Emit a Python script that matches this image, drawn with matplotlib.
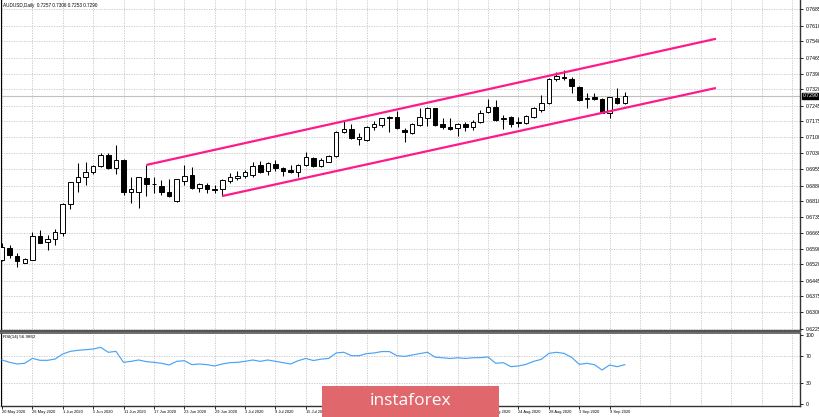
import matplotlib
matplotlib.use("Agg")
import matplotlib.pyplot as plt
from matplotlib.patches import Rectangle
import numpy as np

plt.rcParams['font.family'] = ['Liberation Sans', 'DejaVu Sans']

# ---------------- data ----------------
opens = [0.6540, 0.6593, 0.6559, 0.6527, 0.6540, 0.6649, 0.6620, 0.6634, 0.6665, 0.6796,
         0.6895, 0.6921, 0.6940, 0.6969, 0.7020, 0.6962, 0.6997, 0.6852, 0.6852, 0.6916,
         0.6887, 0.6880, 0.6849, 0.6809, 0.6902, 0.6928, 0.6867, 0.6882, 0.6862, 0.6862,
         0.6901, 0.6913, 0.6924, 0.6928, 0.6974, 0.6946, 0.6978, 0.6962, 0.6951, 0.6940,
         0.6974, 0.7004, 0.6969, 0.6989, 0.7015, 0.7123, 0.7137, 0.7093, 0.7088, 0.7146,
         0.7157, 0.7187, 0.7195, 0.7134, 0.7122, 0.7157, 0.7190, 0.7233, 0.7161, 0.7146,
         0.7145, 0.7161, 0.7149, 0.7169, 0.7215, 0.7241, 0.7183, 0.7192, 0.7172, 0.7164,
         0.7192, 0.7225, 0.7256, 0.7366, 0.7375, 0.7367, 0.7332, 0.7274, 0.7283, 0.7274,
         0.7213, 0.7279, 0.7257]
highs = [0.6616, 0.6608, 0.6570, 0.6550, 0.6669, 0.6677, 0.6654, 0.6681, 0.6802, 0.6898,
         0.6982, 0.6986, 0.6974, 0.7027, 0.7027, 0.7065, 0.7000, 0.6921, 0.6920, 0.6974,
         0.6921, 0.6905, 0.6910, 0.6910, 0.6974, 0.6963, 0.6890, 0.6890, 0.6882, 0.6910,
         0.6936, 0.6948, 0.6951, 0.6989, 0.6994, 0.6989, 0.6997, 0.6966, 0.6974, 0.6977,
         0.7035, 0.7009, 0.7004, 0.7020, 0.7129, 0.7177, 0.7161, 0.7119, 0.7152, 0.7177,
         0.7190, 0.7198, 0.7222, 0.7142, 0.7167, 0.7236, 0.7241, 0.7236, 0.7187, 0.7187,
         0.7164, 0.7172, 0.7180, 0.7225, 0.7274, 0.7271, 0.7203, 0.7198, 0.7195, 0.7203,
         0.7241, 0.7294, 0.7370, 0.7401, 0.7408, 0.7378, 0.7335, 0.7302, 0.7302, 0.7279,
         0.7286, 0.7324, 0.7306]
lows = [0.6535, 0.6547, 0.6506, 0.6524, 0.6540, 0.6616, 0.6585, 0.6608, 0.6649, 0.6773,
        0.6852, 0.6883, 0.6931, 0.6963, 0.6954, 0.6931, 0.6837, 0.6802, 0.6776, 0.6832,
        0.6844, 0.6837, 0.6829, 0.6806, 0.6883, 0.6863, 0.6852, 0.6847, 0.6844, 0.6832,
        0.6890, 0.6905, 0.6913, 0.6917, 0.6939, 0.6928, 0.6948, 0.6924, 0.6936, 0.6920,
        0.6971, 0.6966, 0.6966, 0.6986, 0.7012, 0.7119, 0.7093, 0.7065, 0.7085, 0.7134,
        0.7149, 0.7123, 0.7138, 0.7078, 0.7116, 0.7152, 0.7152, 0.7154, 0.7138, 0.7134,
        0.7108, 0.7131, 0.7134, 0.7164, 0.7210, 0.7177, 0.7137, 0.7149, 0.7149, 0.7161,
        0.7187, 0.7215, 0.7251, 0.7360, 0.7363, 0.7302, 0.7268, 0.7233, 0.7271, 0.7210,
        0.7190, 0.7251, 0.7253]
closes = [0.6601, 0.6562, 0.6535, 0.6543, 0.6649, 0.6619, 0.6634, 0.6666, 0.6796, 0.6895,
          0.6921, 0.6940, 0.6969, 0.7020, 0.6959, 0.6997, 0.6852, 0.6863, 0.6918, 0.6887,
          0.6885, 0.6852, 0.6834, 0.6908, 0.6925, 0.6867, 0.6885, 0.6862, 0.6861, 0.6905,
          0.6917, 0.6925, 0.6942, 0.6969, 0.6943, 0.6981, 0.6962, 0.6948, 0.6940, 0.6974,
          0.7009, 0.6969, 0.6997, 0.7015, 0.7126, 0.7137, 0.7096, 0.7103, 0.7146, 0.7161,
          0.7187, 0.7195, 0.7142, 0.7126, 0.7161, 0.7192, 0.7233, 0.7157, 0.7149, 0.7140,
          0.7160, 0.7149, 0.7169, 0.7213, 0.7241, 0.7180, 0.7190, 0.7161, 0.7164, 0.7198,
          0.7233, 0.7256, 0.7366, 0.7381, 0.7373, 0.7337, 0.7271, 0.7282, 0.7274, 0.7213,
          0.7283, 0.7256, 0.7290]
rsi = [63.8, 60.4, 58.0, 59.0, 66.2, 63.3, 63.3, 65.2, 72.5, 76.3,
       77.8, 78.7, 79.7, 82.1, 74.9, 76.3, 60.4, 61.8, 63.8, 61.4,
       60.4, 59.0, 56.5, 61.8, 62.8, 57.0, 58.0, 57.0, 55.1, 58.0,
       59.9, 60.4, 61.8, 63.8, 61.8, 63.8, 61.8, 59.9, 58.0, 62.8,
       66.0, 63.0, 65.0, 66.0, 74.0, 75.0, 70.0, 70.0, 73.0, 74.0,
       76.0, 76.0, 70.0, 69.0, 71.0, 73.0, 75.0, 68.0, 67.0, 66.0,
       67.0, 66.0, 67.0, 67.2, 68.1, 59.0, 59.9, 54.1, 55.1, 57.5,
       61.8, 64.7, 73.4, 74.9, 73.4, 67.6, 57.5, 59.0, 57.0, 49.3,
       56.5, 54.1, 56.99]

date_labels = ["20 May 2020", "26 May 2020", "1 Jun 2020", "5 Jun 2020", "11 Jun 2020",
               "17 Jun 2020", "23 Jun 2020", "29 Jun 2020", "3 Jul 2020", "9 Jul 2020",
               "15 Jul 2020", "21 Jul 2020", "27 Jul 2020", "31 Jul 2020", "6 Aug 2020",
               "12 Aug 2020", "18 Aug 2020", "24 Aug 2020", "28 Aug 2020", "3 Sep 2020",
               "9 Sep 2020"]
price_ticks = [0.6225, 0.6300, 0.6375, 0.6445, 0.6520, 0.6590, 0.6665, 0.6735, 0.6810,
               0.6880, 0.6955, 0.7030, 0.7100, 0.7175, 0.7245, 0.7320, 0.7390, 0.7465,
               0.7540, 0.7610, 0.7685]
rsi_ticks = [0, 30, 70, 100]

# channel lines (bar index, price)
upper_line_x = [19, 94]
upper_line_y = [0.6974, 0.7551]
lower_line_x = [29, 94]
lower_line_y = [0.6832, 0.7326]

title_text = "AUDUSD,Daily  0.7257 0.7306 0.7253 0.7290"
rsi_text = "RSI(14) 56.9862"
last_price = 0.7290

# ---------------- layout ----------------
W, H = 820, 417
fig = plt.figure(figsize=(8.2, 4.17), dpi=100)
fig.patch.set_facecolor('white')

def fx(px):
    return px / W

def fy(py):
    return 1 - py / H

PX_PER_BAR = 7.6
BAR0_PX = 1.5
PLOT_R = 800.5
xl = ((0 - BAR0_PX) / PX_PER_BAR, (PLOT_R - BAR0_PX) / PX_PER_BAR)

grid_kw = dict(color='#c4c4c4', lw=0.6, linestyle=(0, (1.5, 1.5)), zorder=0)

ax = fig.add_axes([fx(0.5), fy(331), fx(PLOT_R) - fx(0.5), 331 / H])
ax.set_xlim(*xl)
ax.set_ylim(0.62148, 0.77283)
ax.set_facecolor('white')

n = len(opens)
idx = np.arange(n)
o = np.array(opens); h = np.array(highs); l = np.array(lows); c = np.array(closes)

grid_bars = np.arange(0, 106, 4)
for gb in grid_bars:
    ax.axvline(gb, **grid_kw)
for pt in price_ticks:
    ax.axhline(pt, **grid_kw)

ax.axhline(last_price, color='#c0c0c0', lw=0.8, zorder=1)

ax.vlines(idx, l, h, color='black', lw=0.75, zorder=3)
up = c >= o
bottoms = np.minimum(o, c)
heights = np.maximum(np.abs(c - o), 0.00004)
ax.bar(idx[up], heights[up], bottom=bottoms[up], width=0.6, facecolor='white',
       edgecolor='black', linewidth=0.7, zorder=4)
ax.bar(idx[~up], heights[~up], bottom=bottoms[~up], width=0.6, facecolor='black',
       edgecolor='black', linewidth=0.7, zorder=4)

ax.plot(upper_line_x, upper_line_y, color='#ff1a8c', lw=1.6, zorder=5, solid_capstyle='butt')
ax.plot(lower_line_x, lower_line_y, color='#ff1a8c', lw=1.6, zorder=5, solid_capstyle='butt')

ax.yaxis.tick_right()
ax.set_yticks(price_ticks)
ax.set_yticklabels([f"{v:.4f}" for v in price_ticks])
ax.tick_params(axis='y', length=2.5, width=0.6, pad=1, labelsize=3.7, colors='black')
ax.set_xticks([])
for s in ['top']:
    ax.spines[s].set_visible(False)
ax.spines['left'].set_linewidth(0.8)
ax.spines['right'].set_linewidth(1.0)
ax.spines['right'].set_color('#333333')
ax.spines['bottom'].set_linewidth(1.6)
ax.spines['bottom'].set_color('#555555')

ax.annotate(f"{last_price:.4f}", xy=(1.0, last_price), xycoords=('axes fraction', 'data'),
            xytext=(1.5, 0), textcoords='offset points', ha='left', va='center',
            fontsize=3.7, color='white',
            bbox=dict(boxstyle='square,pad=0.15', facecolor='black', edgecolor='black'),
            annotation_clip=False, zorder=10)

fig.text(fx(3), fy(5), title_text, fontsize=3.3, va='center', ha='left', color='black')

# ---------------- RSI panel ----------------
ax2 = fig.add_axes([fx(0.5), fy(406), fx(PLOT_R) - fx(0.5), (406 - 333) / H])
ax2.set_xlim(*xl)
ax2.set_ylim(-2.9, 102.9)
for gb in grid_bars:
    ax2.axvline(gb, **grid_kw)
for rv in [30, 70]:
    ax2.axhline(rv, **grid_kw)
ax2.plot(idx, rsi, color='#4aa3f3', lw=0.85, zorder=3)

ax2.yaxis.tick_right()
ax2.set_yticks(rsi_ticks)
ax2.set_yticklabels([str(v) for v in rsi_ticks])
ax2.tick_params(axis='y', length=2.5, width=0.6, pad=1, labelsize=3.7)
ax2.set_xticks(np.arange(0, 4 * len(date_labels), 4))
ax2.set_xticklabels(date_labels)
for lbl in ax2.get_xticklabels():
    lbl.set_horizontalalignment('left')
ax2.tick_params(axis='x', length=2, width=0.6, pad=1.2, labelsize=2.9)
ax2.spines['top'].set_visible(False)
ax2.spines['left'].set_linewidth(0.8)
ax2.spines['right'].set_linewidth(1.0)
ax2.spines['right'].set_color('#333333')
ax2.spines['bottom'].set_linewidth(1.0)
ax2.spines['bottom'].set_color('#333333')

# top separator of RSI panel
fig.add_artist(plt.Line2D([fx(0), fx(PLOT_R)], [fy(333), fy(333)], color='#555555', lw=1.2,
                          transform=fig.transFigure))

fig.text(fx(3), fy(337), rsi_text, fontsize=3.2, va='center', ha='left', color='black')

# ---------------- watermark logo ----------------
logo = Rectangle((fx(322), 0), fx(499) - fx(322), (417 - 386) / H, transform=fig.transFigure,
                 facecolor='#e0676b', edgecolor='none', zorder=10)
fig.patches.append(logo)
fig.text(fx(410), fy(401), "instaforex", fontsize=12.5, family='Open Sans', color='white',
         ha='center', va='center', zorder=11)

fig.savefig("out.png", dpi=100, facecolor='white')
